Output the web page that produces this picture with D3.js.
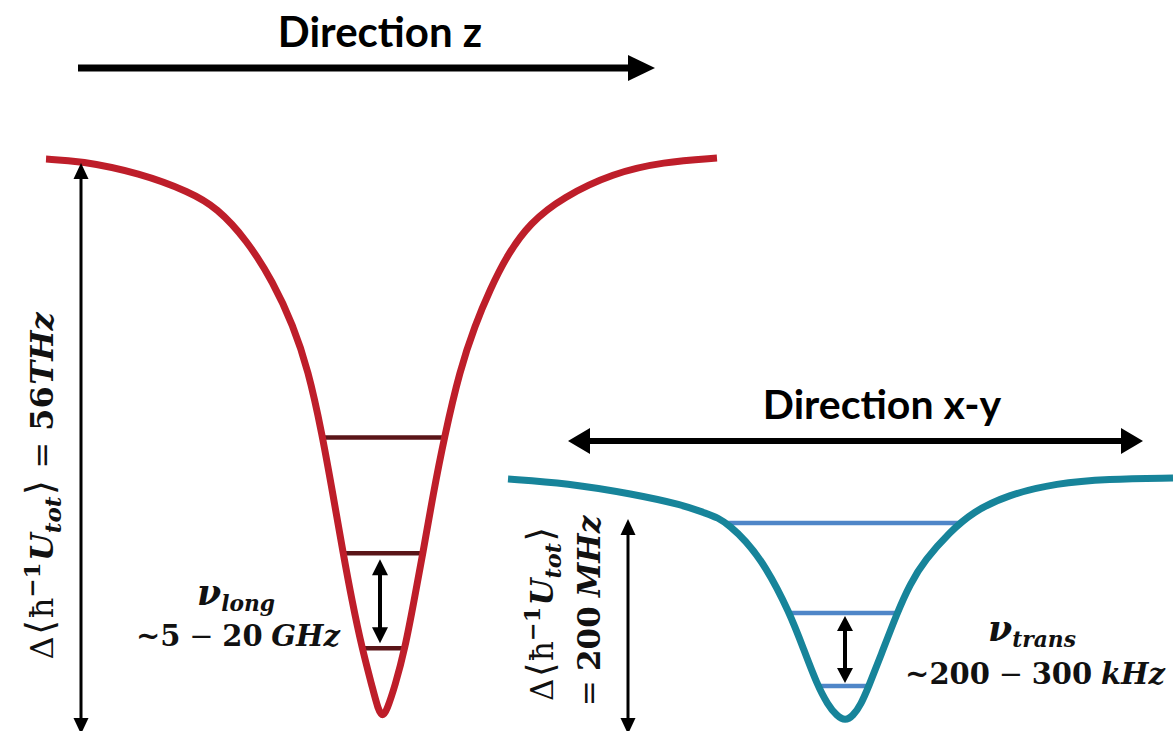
<!DOCTYPE html>
<html><head><meta charset="utf-8">
<script src="https://cdn.jsdelivr.net/npm/d3@7"></script>
<style>
html,body{margin:0;padding:0;background:#fff;}
svg{display:block;}
</style></head>
<body>
<svg id="c" width="1176" height="731"></svg>
<script>
// ---- data ----
// red well (direction z): [position (-1..1), energy fraction of depth (0 bottom .. 1 top)]
const redCurve = [
  [-0.997,0.998],[-0.896,0.995],[-0.718,0.973],[-0.569,0.939],[-0.489,0.911],
  [-0.400,0.853],[-0.322,0.778],[-0.263,0.701],[-0.218,0.621],[-0.177,0.508],
  [-0.144,0.397],[-0.114,0.293],[-0.088,0.209],[-0.058,0.123],[-0.028,0.055],
  [-0.010,0.0125],[0.004,0.000],[0.016,0.0125],
  [0.040,0.055],[0.070,0.123],[0.097,0.209],[0.123,0.293],
  [0.153,0.397],[0.186,0.499],[0.233,0.621],[0.278,0.701],[0.322,0.764],
  [0.373,0.826],[0.441,0.884],[0.539,0.930],[0.688,0.973],[0.837,0.993],
  [0.997,1.000]
];
const redLevels = [0.500, 0.293, 0.123];
// teal well (direction x-y)
const tealCurve = [
  [-1.000,0.996],[-0.823,0.979],[-0.624,0.934],[-0.474,0.889],[-0.408,0.856],
  [-0.368,0.837],[-0.332,0.802],[-0.287,0.745],[-0.227,0.642],[-0.152,0.444],
  [-0.110,0.292],[-0.071,0.152],[-0.038,0.066],[-0.011,0.021],[0.014,0.000],
  [0.038,0.021],[0.062,0.070],[0.083,0.136],[0.122,0.272],[0.170,0.444],
  [0.209,0.564],[0.254,0.663],[0.329,0.778],[0.398,0.860],[0.501,0.930],
  [0.651,0.979],[0.801,0.996],[1.000,1.000]
];
const tealLevels = [0.815, 0.444, 0.144];

const titles = ["Direction z", "Direction x-y"];

const svg = d3.select("#c");

const xRed = d3.scaleLinear().domain([-1,1]).range([45,718]);
const yRed = d3.scaleLinear().domain([0,1]).range([717,158]);
const xTeal = d3.scaleLinear().domain([-1,1]).range([508,1173]);
const yTeal = d3.scaleLinear().domain([0,1]).range([721,478]);

function crossings(curve, E){
  const res=[];
  for(let i=0;i<curve.length-1;i++){
    const [x0,e0]=curve[i],[x1,e1]=curve[i+1];
    if((e0-E)*(e1-E)<=0 && e0!==e1){
      const t=(E-e0)/(e1-e0);
      res.push(x0+t*(x1-x0));
    }
  }
  return [d3.min(res), d3.max(res)];
}

function drawWell(curve, levels, xs, ys, col, lvlCol, lvlW){
  const g=svg.append("g");
  g.selectAll("line.lvl").data(levels).enter().append("line")
    .attr("x1",d=>xs(crossings(curve,d)[0])).attr("x2",d=>xs(crossings(curve,d)[1]))
    .attr("y1",d=>ys(d)).attr("y2",d=>ys(d))
    .attr("stroke",lvlCol).attr("stroke-width",lvlW);
  const line=d3.line().x(d=>xs(d[0])).y(d=>ys(d[1])).curve(d3.curveBasis);
  g.append("path").attr("d",line(curve)).attr("fill","none")
    .attr("stroke",col).attr("stroke-width",7).attr("stroke-linejoin","round");
}
drawWell(redCurve, redLevels, xRed, yRed, "#be1e2a", "#5a1518", 4.5);
drawWell(tealCurve, tealLevels, xTeal, yTeal, "#17849a", "#4f86c8", 4.5);

// arrows
function arrow(x1,y1,x2,y2,w,hl,hw,startHead,endHead){
  const dx=x2-x1, dy=y2-y1, L=Math.hypot(dx,dy), ux=dx/L, uy=dy/L, px=-uy, py=ux;
  const sx=startHead? x1+ux*hl*0.9 : x1, sy=startHead? y1+uy*hl*0.9 : y1;
  const ex=endHead? x2-ux*hl*0.9 : x2, ey=endHead? y2-uy*hl*0.9 : y2;
  svg.append("line").attr("x1",sx).attr("y1",sy).attr("x2",ex).attr("y2",ey)
    .attr("stroke","#000").attr("stroke-width",w);
  const head=(tx,ty,dirx,diry)=>{
    const bx=tx-dirx*hl, by=ty-diry*hl;
    svg.append("path").attr("d",`M${tx},${ty}L${bx+px*hw},${by+py*hw}L${bx-px*hw},${by-py*hw}Z`).attr("fill","#000");
  };
  if(endHead) head(x2,y2,ux,uy);
  if(startHead) head(x1,y1,-ux,-uy);
}
arrow(78,68,655,68,7,27,13,false,true);
arrow(568,441,1143,441,6,22,13,true,true);
arrow(81,163,81,734,3,16,7.5,true,true);
arrow(628,519,628,734,3,16,7.5,true,true);
// small level-spacing arrows
arrow(380,yRed(redLevels[1])+6,380,yRed(redLevels[2])-5,4,16,8,true,true);
arrow(845,yTeal(tealLevels[1])+3,845,yTeal(tealLevels[2])-3,4,15,8,true,true);

// titles
svg.append("text").attr("x",380).attr("y",47).attr("text-anchor","middle")
  .attr("font-family","Lato").attr("font-weight","bold").attr("font-size",42).text(titles[0]);
svg.append("text").attr("x",882).attr("y",419).attr("text-anchor","middle")
  .attr("font-family","Lato").attr("font-weight","bold").attr("font-size",41).text(titles[1]);

// math text helper
const MF="DejaVu Serif";
function mtext(x,y,rot,size,segs,anchor){
  const t=svg.append("text").attr("font-family",MF).attr("font-size",size)
    .attr("text-anchor",anchor||"middle").attr("fill","#111")
    .attr("transform",`translate(${x},${y})`+(rot?` rotate(${rot})`:""));
  let cur=0;
  segs.forEach(s=>{
    const shift=(s.sh||0)*size;
    const ts=t.append("tspan").text(s.t)
      .attr("font-weight",s.b?"bold":"normal")
      .attr("font-style",s.i?"italic":"normal")
      .attr("font-size",(s.s||1)*size)
      .attr("dy",shift-cur);
    if(s.dx) ts.attr("dx",s.dx*size);
    cur=shift;
  });
  return t;
}
const UTOT=[
  {t:"Δ"},{t:"⟨",s:1.2,dx:0.05},{t:"ħ",dx:0.05},{t:"−1",b:1,s:0.72,sh:-0.42},
  {t:"U",b:1,i:1,dx:0.04},{t:"tot",b:1,i:1,s:0.72,sh:0.25},{t:"⟩",s:1.2,dx:0.05}
];
mtext(53,486,-90,32,UTOT.concat([{t:"=",dx:0.35},{t:"56",b:1,dx:0.35},{t:"THz",b:1,i:1,dx:0.05}]));
mtext(553,614,-90,31,UTOT);
mtext(600,611,-90,31,[{t:"="},{t:"200",b:1,dx:0.3},{t:"MHz",b:1,i:1,dx:0.3}]);

mtext(236,605,0,29,[{t:"ν",b:1,i:1,s:1.2},{t:"long",b:1,i:1,s:0.75,sh:0.22}]);
mtext(238,646,0,29,[{t:"~",b:1},{t:"5",b:1},{t:"−",dx:0.3},{t:"20",b:1,dx:0.3},{t:"GHz",b:1,i:1,dx:0.3}]);
mtext(1032,641,0,29,[{t:"ν",b:1,i:1,s:1.2},{t:"trans",b:1,i:1,s:0.75,sh:0.22}]);
mtext(1035,684,0,29,[{t:"~",b:1},{t:"200",b:1},{t:"−",dx:0.3},{t:"300",b:1,dx:0.3},{t:"kHz",b:1,i:1,dx:0.3}]);
</script>
</body></html>
